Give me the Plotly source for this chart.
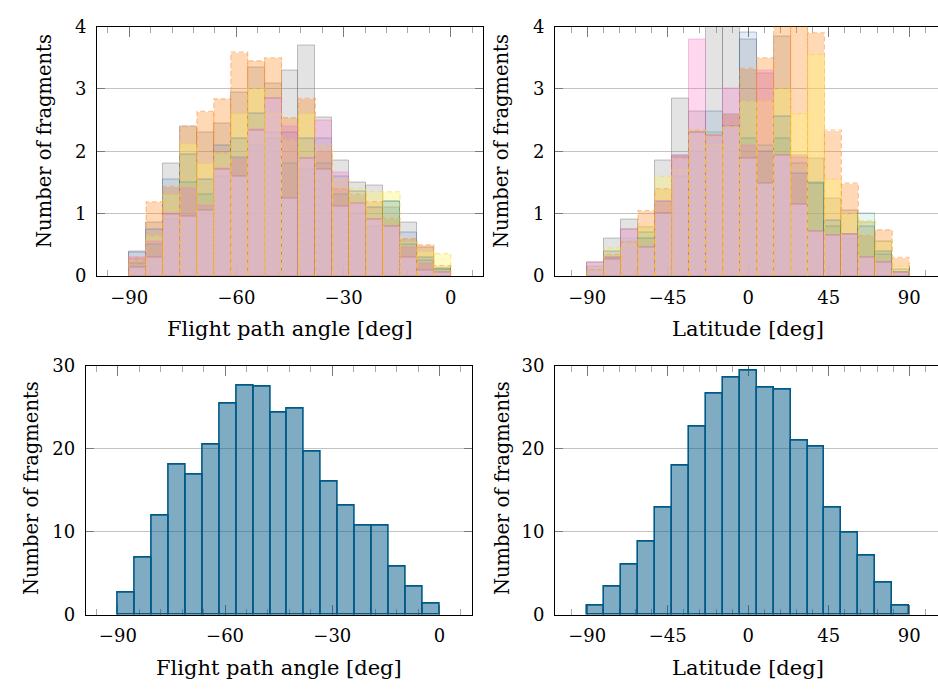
import numpy as np
import plotly.graph_objects as go

# ---------------- data ----------------
FPA_RANGE = (-90, 0)      # flight path angle histogram range [deg]
LAT_RANGE = (-90, 90)     # latitude histogram range [deg]

# top-left: individual runs, flight path angle (19 bins)
fpa_gray   = [0.40, 0.85, 1.80, 2.40, 2.30, 2.45, 2.94, 3.35, 3.09, 3.29, 3.70, 2.54, 1.85, 1.50, 1.45, 1.10, 0.85, 0.45, 0.10]
fpa_orange = [0.30, 1.19, 1.44, 2.40, 2.64, 2.84, 3.59, 3.45, 3.50, 2.54, 2.85, 2.00, 1.40, 1.31, 1.19, 0.93, 0.60, 0.50, 0.17]
fpa_yellow = [0.25, 0.64, 1.30, 2.12, 1.80, 1.97, 2.60, 3.01, 2.60, 2.18, 2.60, 2.10, 1.55, 1.40, 1.35, 1.35, 0.55, 0.40, 0.36]
fpa_blue   = [0.37, 0.75, 1.55, 1.95, 1.55, 2.10, 2.20, 2.60, 2.30, 2.30, 2.20, 2.20, 1.60, 1.35, 1.10, 1.19, 0.70, 0.30, 0.12]
fpa_green  = [0.20, 0.50, 0.90, 1.50, 1.30, 1.60, 1.90, 2.10, 2.20, 1.80, 1.70, 1.80, 1.30, 1.00, 0.80, 1.19, 0.50, 0.25, 0.10]
fpa_pink   = [0.30, 0.55, 1.00, 1.40, 1.13, 1.73, 1.89, 2.35, 2.85, 2.40, 1.89, 2.50, 1.66, 1.15, 0.91, 0.80, 0.45, 0.20, 0.05]
fpa_rose   = [0.14, 0.30, 0.99, 0.96, 1.05, 1.70, 1.60, 2.34, 2.84, 1.24, 1.89, 1.70, 1.11, 1.16, 0.91, 0.80, 0.30, 0.09, 0.05]

# top-right: individual runs, latitude (19 bins)
lat_gray   = [0.15, 0.60, 0.90, 0.78, 1.85, 2.85, 2.64, 4.30, 4.30, 3.79, 3.25, 3.84, 1.94, 1.89, 1.25, 1.05, 0.86, 0.55, 0.05]
lat_orange = [0.10, 0.35, 0.55, 1.05, 1.40, 1.89, 2.34, 2.25, 2.59, 3.33, 3.50, 4.30, 4.30, 3.90, 2.34, 1.49, 0.65, 0.74, 0.30]
lat_yellow = [0.12, 0.45, 0.50, 0.80, 1.60, 1.70, 2.34, 2.10, 2.40, 2.80, 2.80, 3.00, 2.60, 3.55, 1.55, 1.00, 0.89, 0.55, 0.16]
lat_blue   = [0.15, 0.40, 0.60, 0.60, 1.19, 1.94, 2.30, 2.64, 2.59, 3.90, 2.00, 2.55, 1.65, 1.49, 0.89, 0.67, 0.80, 0.40, 0.05]
lat_green  = [0.10, 0.30, 0.55, 0.70, 1.00, 1.60, 2.00, 2.30, 2.40, 2.20, 2.10, 2.20, 1.80, 1.50, 0.80, 0.60, 1.00, 0.35, 0.10]
lat_pink   = [0.21, 0.29, 0.75, 0.45, 1.19, 1.94, 3.79, 2.25, 3.00, 2.10, 3.30, 1.94, 1.90, 0.71, 0.65, 0.67, 0.29, 0.21, 0.05]
lat_rose   = [0.21, 0.26, 0.75, 0.45, 1.00, 1.90, 2.30, 2.25, 2.39, 1.89, 1.49, 1.94, 1.15, 0.71, 0.65, 0.67, 0.29, 0.21, 0.05]

# bottom: all fragments combined
fpa_total = [2.65, 6.9, 12.0, 18.1, 16.9, 20.5, 25.4, 27.6, 27.5, 24.4, 24.8, 19.6, 16.0, 13.2, 10.7, 10.75, 5.85, 3.4, 1.35]
lat_total = [1.1, 3.4, 6.0, 8.8, 12.85, 18.0, 22.7, 26.6, 28.55, 29.4, 27.3, 27.15, 21.0, 20.2, 12.95, 9.95, 7.15, 3.85, 1.1]

fpa_ticks = [-90, -60, -30, 0]
lat_ticks = [-90, -45, 0, 45, 90]
top_yticks = [0, 1, 2, 3, 4]
bot_yticks = [0, 10, 20, 30]

# ---------------- styles ----------------
W, H = 938, 694
FONT = "DejaVu Serif"
series_style = [
    # fill, edge, dash
    ("rgba(128,128,128,0.22)", "rgba(120,120,120,0.45)", None),
    ("rgba(255,127,14,0.30)", "rgba(255,150,60,0.6)", "dash"),
    ("rgba(255,245,110,0.38)", "rgba(245,215,60,0.55)", "dash"),
    ("rgba(31,100,170,0.12)", "rgba(31,100,170,0.35)", None),
    ("rgba(40,160,130,0.10)", "rgba(40,150,120,0.35)", None),
    ("rgba(245,110,195,0.28)", "rgba(235,130,190,0.45)", None),
    ("rgba(222,189,206,0.72)", "rgba(180,110,130,0.55)", None),
]

fig = go.Figure()


def add_hist(values, rng, xa, ya, fill, edge, dash=None, lw=1.0):
    edges = np.linspace(rng[0], rng[1], len(values) + 1)
    centers = (edges[:-1] + edges[1:]) / 2
    width = edges[1] - edges[0]
    fig.add_trace(go.Bar(
        x=centers, y=values, width=width, xaxis=xa, yaxis=ya,
        marker=dict(color=fill, line=dict(color=edge, width=0 if dash else lw)),
        showlegend=False, hoverinfo="skip"))
    if dash:
        xs, ys = [], []
        for i, v in enumerate(values):
            xs += [edges[i], edges[i], edges[i + 1], edges[i + 1], None]
            ys += [0, v, v, 0, None]
        fig.add_trace(go.Scatter(
            x=xs, y=ys, mode="lines", xaxis=xa, yaxis=ya,
            line=dict(color=edge, width=1.1, dash="5px,3px"),
            showlegend=False, hoverinfo="skip"))


fpa_series = [fpa_gray, fpa_orange, fpa_yellow, fpa_blue, fpa_green, fpa_pink, fpa_rose]
lat_series = [lat_gray, lat_orange, lat_yellow, lat_blue, lat_green, lat_pink, lat_rose]
for vals, st in zip(fpa_series, series_style):
    add_hist(vals, FPA_RANGE, "x", "y", *st)
for vals, st in zip(lat_series, series_style):
    add_hist(vals, LAT_RANGE, "x2", "y2", *st)

add_hist(fpa_total, FPA_RANGE, "x3", "y3", "rgba(0,90,135,0.50)", "#005a87", None, 1.6)
add_hist(lat_total, LAT_RANGE, "x4", "y4", "rgba(0,90,135,0.50)", "#005a87", None, 1.6)


def px_x(p):
    return p / W


def px_y(p):
    return 1 - p / H


def xaxis(domain, rng, tickvals, minor_dt, anchor):
    return dict(
        domain=domain, range=rng, anchor=anchor,
        tickvals=tickvals, ticks="inside", ticklen=10, tickcolor="#7a7a7a", tickwidth=1,
        minor=dict(dtick=minor_dt, tick0=0, ticks="inside", ticklen=6, tickcolor="#a8a8a8", tickwidth=1),
        showline=True, linecolor="black", linewidth=1, mirror="ticks",
        showgrid=False, zeroline=False, layer="below traces",
        tickfont=dict(family=FONT, size=18, color="black"), ticklabelstandoff=5,
        fixedrange=True)


def yaxis(domain, rng, tickvals, anchor, mirror):
    return dict(
        domain=domain, range=rng, anchor=anchor,
        tickvals=tickvals, ticks="inside", ticklen=8, tickcolor="#7a7a7a", tickwidth=1,
        showline=True, linecolor="black", linewidth=1, mirror=mirror,
        showgrid=True, gridcolor="#c4c4c4", gridwidth=1, zeroline=False, layer="below traces",
        tickfont=dict(family=FONT, size=18, color="black"), ticklabelstandoff=6,
        fixedrange=True)


top_dom = [px_y(273.3), px_y(16)]
bot_dom = [px_y(622.7), px_y(365.7)]
lat_rng = [-108, -108 + (938 - 555) / 1.789]

fig.update_layout(
    width=W, height=H, margin=dict(l=0, r=0, t=0, b=0),
    paper_bgcolor="white", plot_bgcolor="white",
    barmode="overlay", bargap=0,
    xaxis=xaxis([px_x(97), px_x(483)], [-99, 9], fpa_ticks, 6, "y"),
    yaxis=yaxis(top_dom, [0, 4], top_yticks, "x", "ticks"),
    xaxis2=xaxis([px_x(555), 1], lat_rng, lat_ticks, 9, "y2"),
    yaxis2=yaxis(top_dom, [0, 4], top_yticks, "x2", False),
    xaxis3=xaxis([px_x(85.7), px_x(471.7)], [-99, 9], fpa_ticks, 6, "y3"),
    yaxis3=yaxis(bot_dom, [0, 30], bot_yticks, "x3", "ticks"),
    xaxis4=xaxis([px_x(555), 1], lat_rng, lat_ticks, 9, "y4"),
    yaxis4=yaxis(bot_dom, [0, 30], bot_yticks, "x4", False),
)

titles = [
    ("Flight path angle [deg]", 290, 328, 0, 21),
    ("Latitude [deg]", 748, 328, 0, 21),
    ("Flight path angle [deg]", 278.7, 678, 0, 21),
    ("Latitude [deg]", 748, 678, 0, 21),
    ("Number of fragments", 45, 134, -90, 19.5),
    ("Number of fragments", 502, 134, -90, 19.5),
    ("Number of fragments", 31, 492, -90, 19.5),
    ("Number of fragments", 502, 492, -90, 19.5),
]
for text, x, y, ang, fs in titles:
    fig.add_annotation(text=text, x=px_x(x), y=px_y(y), xref="paper", yref="paper",
                       xanchor="center", yanchor="middle", showarrow=False, textangle=ang,
                       font=dict(family=FONT, size=fs, color="black"))

fig.write_html("out.html")
